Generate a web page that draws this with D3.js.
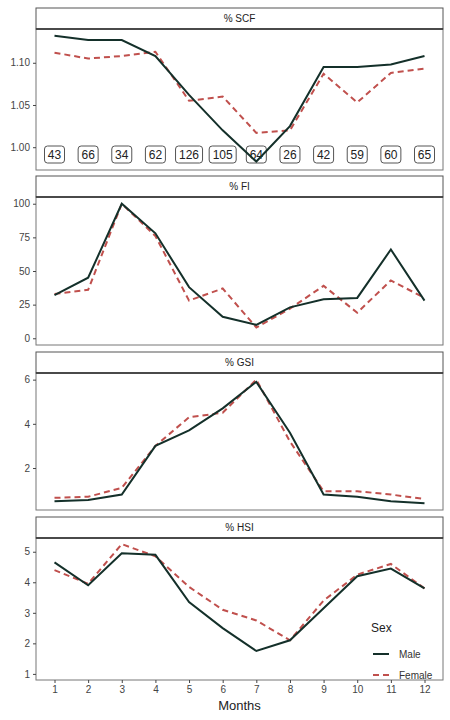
<!DOCTYPE html>
<html><head><meta charset="utf-8">
<script src="https://cdn.jsdelivr.net/npm/d3@7"></script>
<style>body{margin:0;background:#fff}</style>
</head><body><svg id="c" width="450" height="720"></svg>
<script>
const months = [1,2,3,4,5,6,7,8,9,10,11,12];
const counts = [43,66,34,62,126,105,64,26,42,59,60,65];
const scfMale   = [1.132,1.127,1.127,1.108,1.062,1.020,0.983,1.025,1.095,1.095,1.098,1.108];
const scfFemale = [1.112,1.105,1.108,1.113,1.055,1.060,1.017,1.020,1.087,1.053,1.088,1.093];
const fiMale    = [32,45,100,78,38,16,10,23,29,30,66,28];
const fiFemale  = [33,36,100,76,28,37,8,22,39,19,43,30];
const gsiMale   = [0.5,0.55,0.8,3.0,3.7,4.7,5.9,3.6,0.8,0.7,0.5,0.4];
const gsiFemale = [0.65,0.7,1.1,3.0,4.3,4.5,6.0,3.2,0.95,0.95,0.8,0.6];
const hsiMale   = [4.65,3.9,4.95,4.9,3.35,2.5,1.75,2.1,3.15,4.2,4.45,3.8];
const hsiFemale = [4.4,3.95,5.25,4.85,3.85,3.1,2.75,2.1,3.4,4.25,4.6,3.8];

const panels = [
  {title:"% SCF", male:scfMale, female:scfFemale, top:8, bottom:170, domain:[0.973,1.14], ticks:[1.00,1.05,1.10], fmt:d3.format(".2f")},
  {title:"% FI", male:fiMale, female:fiFemale, top:176, bottom:345, domain:[-5,105], ticks:[0,25,50,75,100], fmt:d3.format("d")},
  {title:"% GSI", male:gsiMale, female:gsiFemale, top:352, bottom:510, domain:[0.1,6.3], ticks:[2,4,6], fmt:d3.format("d")},
  {title:"% HSI", male:hsiMale, female:hsiFemale, top:517, bottom:680, domain:[0.8,5.45], ticks:[1,2,3,4,5], fmt:d3.format("d")}
];
const maleCol = "#14302a", femaleCol = "#c0504d";
const svg = d3.select("#c");
const left = 36, right = 443, stripH = 21;
const x = d3.scaleLinear().domain([0.45,12.55]).range([left,right]);

panels.forEach((p,pi) => {
  const y = d3.scaleLinear().domain(p.domain).range([p.bottom, p.top + stripH]);
  svg.append("rect").attr("x",left).attr("y",p.top).attr("width",right-left).attr("height",stripH)
    .attr("fill","#fff").attr("stroke","#555").attr("stroke-width",1);
  svg.append("text").attr("x",(left+right)/2).attr("y",p.top+14).attr("text-anchor","middle")
    .attr("font-family","Liberation Sans, Arial").attr("font-size",10).attr("fill","#222").text(p.title);
  svg.append("rect").attr("x",left).attr("y",p.top+stripH).attr("width",right-left).attr("height",p.bottom-p.top-stripH)
    .attr("fill","none").attr("stroke","#777").attr("stroke-width",1);
  svg.append("line").attr("x1",left).attr("x2",right).attr("y1",p.top+stripH).attr("y2",p.top+stripH)
    .attr("stroke","#333").attr("stroke-width",1.5);
  const ya = svg.append("g").attr("transform",`translate(${left},0)`)
    .call(d3.axisLeft(y).tickValues(p.ticks).tickFormat(p.fmt).tickSize(3).tickPadding(3));
  ya.select(".domain").remove();
  ya.selectAll("text").attr("font-family","Liberation Sans, Arial").attr("font-size",10).attr("fill","#444");
  ya.selectAll("line").attr("stroke","#444");

  const line = d3.line().x((d,i)=>x(months[i])).y(d=>y(d));
  if (pi === 0) {
    const g = svg.append("g");
    counts.forEach((c,i) => {
      const w = String(c).length*7+6;
      g.append("rect").attr("x",x(months[i])-w/2).attr("y",146).attr("width",w).attr("height",17).attr("rx",3)
        .attr("fill","#fff").attr("stroke","#555");
      g.append("text").attr("x",x(months[i])).attr("y",159).attr("text-anchor","middle")
        .attr("font-family","Liberation Sans, Arial").attr("font-size",12).attr("fill","#222").text(c);
    });
  }
  svg.append("path").attr("d",line(p.female)).attr("fill","none").attr("stroke",femaleCol)
    .attr("stroke-width",2).attr("stroke-dasharray","6,4");
  svg.append("path").attr("d",line(p.male)).attr("fill","none").attr("stroke",maleCol).attr("stroke-width",2);

  if (pi === 3) {
    const xa = svg.append("g").attr("transform",`translate(0,${p.bottom})`)
      .call(d3.axisBottom(x).tickValues(months).tickSize(3).tickPadding(3));
    xa.select(".domain").remove();
    xa.selectAll("text").attr("font-family","Liberation Sans, Arial").attr("font-size",10).attr("fill","#444");
    xa.selectAll("line").attr("stroke","#444");
    svg.append("text").attr("x",(left+right)/2).attr("y",710).attr("text-anchor","middle")
      .attr("font-family","Liberation Sans, Arial").attr("font-size",13).attr("fill","#222").text("Months");
    const lg = svg.append("g").attr("transform","translate(371,632)");
    lg.append("text").attr("x",0).attr("y",0).attr("font-family","Liberation Sans, Arial").attr("font-size",12).attr("fill","#222").text("Sex");
    [["Male",maleCol,null],["Female",femaleCol,"6,4"]].forEach((d,i)=>{
      const yy = 22 + i*21;
      lg.append("line").attr("x1",2).attr("x2",18).attr("y1",yy).attr("y2",yy).attr("stroke",d[1]).attr("stroke-width",2)
        .attr("stroke-dasharray",d[2]);
      lg.append("text").attr("x",28).attr("y",yy+4).attr("font-family","Liberation Sans, Arial").attr("font-size",10).attr("fill","#333").text(d[0]);
    });
  }
});
</script></body></html>
